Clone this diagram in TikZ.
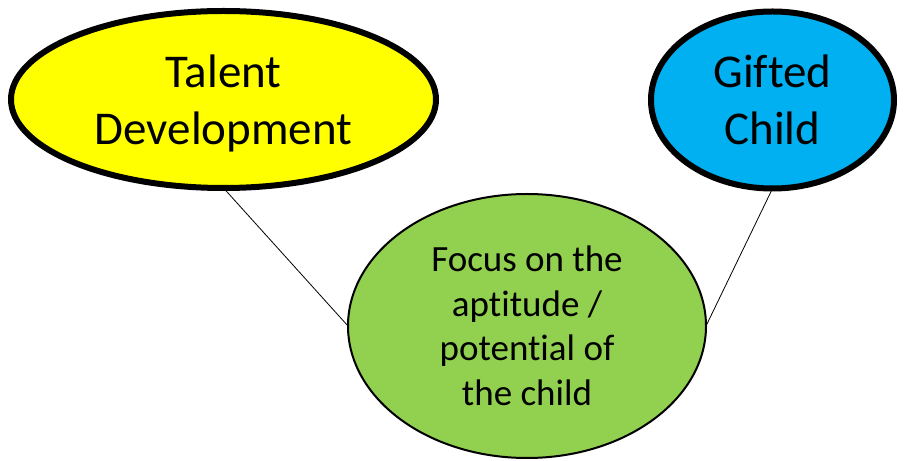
\documentclass[tikz,border=0pt]{standalone}
\usepackage{fontspec}
\setmainfont{Carlito}[Ligatures=NoCommon]
\usepackage{xcolor}
\usepackage{tikz}
\usetikzlibrary{shapes.geometric}
\definecolor{talentyellow}{HTML}{FFFF00}
\definecolor{giftedblue}{HTML}{00B0F0}
\definecolor{focusgreen}{HTML}{92D050}

\begin{document}
\begin{tikzpicture}[x=1bp,y=-1bp,
    bigoval/.style={ellipse, draw=black, line width=6bp, inner sep=0pt, outer sep=0pt,
        align=center, text depth=0pt, font=\fontsize{47bp}{57bp}\selectfont},
    focusoval/.style={ellipse, draw=black, line width=2bp, inner sep=0pt, outer sep=0pt,
        align=center, font=\fontsize{37bp}{44.5bp}\selectfont}]
                \useasboundingbox (0,0) rectangle (904,461);

                % Talent development
                \node[bigoval, fill=talentyellow, minimum width=425bp, minimum height=177bp] (talent) at (223.5, 99.5) {Talent\\Development};

                % Gifted child
                \node[bigoval, fill=giftedblue, minimum width=243bp, minimum height=177bp] (gifted) at (772.5, 100) {Gifted\\Child};

                % Common focus
                \node[focusoval, fill=focusgreen, minimum width=358bp, minimum height=264bp] (focus) at (527, 326) {Focus on the\\aptitude /\\potential of\\the child};

                % Links
                \draw[black, line width=0.8bp] (talent.south) -- (focus.west);
                \draw[black, line width=0.8bp] (gifted.south) -- (focus.east);
            \end{tikzpicture}
\end{document}
